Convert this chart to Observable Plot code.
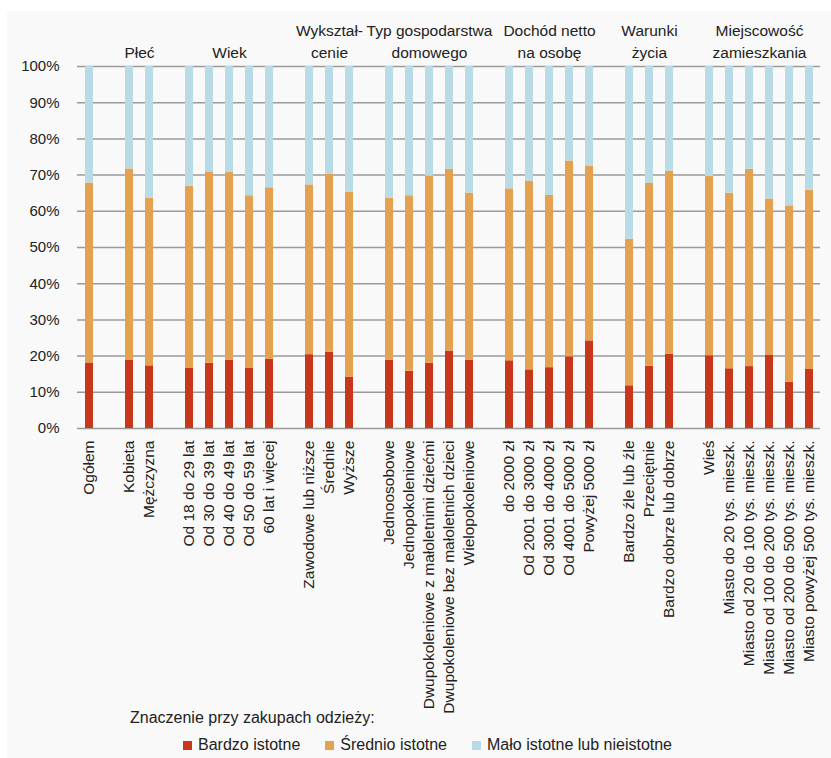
<!DOCTYPE html>
<html><head><meta charset="utf-8">
<script src="https://cdn.jsdelivr.net/npm/d3@7"></script>
<script src="https://cdn.jsdelivr.net/npm/@observablehq/plot@0.6"></script>
<style>
body{margin:0;background:#fff;font-family:"Liberation Sans",Arial,sans-serif;color:#222;width:831px;height:758px;overflow:hidden;position:relative;}
#panel{position:absolute;left:7px;top:11px;right:0;bottom:0;background:#f9f9f9;}
#chart{position:absolute;left:0;top:0;}
#legend-title{position:absolute;left:130px;top:708px;font-size:16px;line-height:20px;}
#legend{position:absolute;left:183px;top:735px;display:flex;gap:25px;font-size:16px;line-height:20px;}
.item{display:flex;align-items:center;}
.sw{width:9px;height:9px;margin-right:6px;}
</style></head><body>
<div id="panel"></div><div id="chart"></div>
<div id="legend-title">Znaczenie przy zakupach odzieży:</div>
<div id="legend"></div>
<script>
const groupNames = ["", "Płeć", "Wiek", "Wykształ-\ncenie", "Typ gospodarstwa\ndomowego", "Dochód netto\nna osobę", "Warunki\nżycia", "Miejscowość\nzamieszkania"];
const groupMembers = [
  ["Ogółem"],
  ["Kobieta", "Mężczyzna"],
  ["Od 18 do 29 lat", "Od 30 do 39 lat", "Od 40 do 49 lat", "Od 50 do 59 lat", "60 lat i więcej"],
  ["Zawodowe lub niższe", "Średnie", "Wyższe"],
  ["Jednoosobowe", "Jednopokoleniowe", "Dwupokoleniowe z małoletnimi dziećmi", "Dwupokoleniowe bez małoletnich dzieci", "Wielopokoleniowe"],
  ["do 2000 zł", "Od 2001 do 3000 zł", "Od 3001 do 4000 zł", "Od 4001 do 5000 zł", "Powyżej 5000 zł"],
  ["Bardzo źle lub źle", "Przeciętnie", "Bardzo dobrze lub dobrze"],
  ["Wieś", "Miasto do 20 tys. mieszk.", "Miasto od 20 do 100 tys. mieszk.", "Miasto od 100 do 200 tys. mieszk.", "Miasto od 200 do 500 tys. mieszk.", "Miasto powyżej 500 tys. mieszk."]
];
const seriesNames = ["Bardzo istotne", "Średnio istotne", "Mało istotne lub nieistotne"];
const seriesColors = ["#c8361b", "#e4a150", "#b8dbe5"];
const bardzo  = [18.1, 18.8, 17.3, 16.7, 18.0, 18.9, 16.7, 19.1, 20.4, 21.1, 14.2, 18.9, 15.8, 18.0, 21.4, 18.9, 18.7, 16.2, 16.8, 19.8, 24.2, 11.8, 17.2, 20.5, 20.1, 16.5, 17.1, 20.3, 12.8, 16.3];
const srednio = [49.7, 52.9, 46.3, 50.2, 52.9, 51.8, 47.6, 47.4, 46.9, 49.1, 51.1, 44.7, 48.5, 51.7, 50.2, 46.1, 47.5, 52.1, 47.6, 54.1, 48.3, 40.5, 50.5, 50.6, 49.5, 48.5, 54.5, 43.1, 48.7, 49.5];
const malo    = [32.2, 28.3, 36.4, 33.1, 29.1, 29.3, 35.7, 33.5, 32.7, 29.8, 34.7, 36.4, 35.7, 30.3, 28.4, 35.0, 33.8, 31.7, 35.6, 26.1, 27.5, 47.7, 32.3, 28.9, 30.4, 35.0, 28.4, 36.6, 38.5, 34.2];
const yTicks = [0, 10, 20, 30, 40, 50, 60, 70, 80, 90, 100];

// domain with empty slots between groups
const categories = groupMembers.flat();
const domain = [];
groupMembers.forEach((g, i) => { if (i > 0) domain.push("gap" + i); domain.push(...g); });

const seriesValues = [bardzo, srednio, malo];
const rows = [];
seriesNames.forEach((s, si) => categories.forEach((c, ci) => rows.push({cat: c, series: s, value: seriesValues[si][ci]})));

const headers = groupNames.map((name, i) => {
  const m = groupMembers[i];
  return {name, anchor: m[Math.floor((m.length - 1) / 2)], even: m.length % 2 === 0};
}).filter(d => d.name);

const font = '"Liberation Sans", Arial, sans-serif';
function build(step) {
  return Plot.plot({
    width: 831, height: 745,
    marginLeft: 77, marginRight: 11, marginTop: 66, marginBottom: 317,
    style: {background: "transparent", fontFamily: font, fontSize: "16px", color: "#222"},
    x: {domain, paddingInner: 0.6, paddingOuter: 0.3, align: 0.5, axis: null},
    y: {domain: [0, 100], axis: null},
    color: {domain: seriesNames, range: seriesColors},
    marks: [
      Plot.ruleY(yTicks, {stroke: "#9a9a9a", strokeWidth: 1.5}),
      Plot.barY(rows, {x: "cat", y: "value", fill: "series"}),
      Plot.axisY(yTicks, {label: null, tickFormat: d => d + "%", tickSize: 0, tickPadding: 18, fontSize: 15}),
      Plot.axisX({label: null, tickRotate: -90, tickSize: 0, tickPadding: 12, fontSize: 15.5, tickFormat: d => d.startsWith("gap") ? "" : d}),
      Plot.text(headers.filter(d => !d.even), {x: "anchor", text: "name", frameAnchor: "top", lineAnchor: "bottom", dy: -9, lineHeight: 1.4, fontSize: 15.5}),
      Plot.text(headers.filter(d => d.even), {x: "anchor", text: "name", frameAnchor: "top", lineAnchor: "bottom", dy: -9, dx: step / 2, lineHeight: 1.4, fontSize: 15.5})
    ]
  });
}
const step = build(0).scale("x").step;
document.getElementById("chart").append(build(step));

const leg = document.getElementById("legend");
seriesNames.forEach((s, i) => {
  const it = document.createElement("div"); it.className = "item";
  const sw = document.createElement("div"); sw.className = "sw"; sw.style.background = seriesColors[i];
  const t = document.createElement("span"); t.textContent = s;
  it.append(sw, t); leg.append(it);
});
</script>
</body></html>
